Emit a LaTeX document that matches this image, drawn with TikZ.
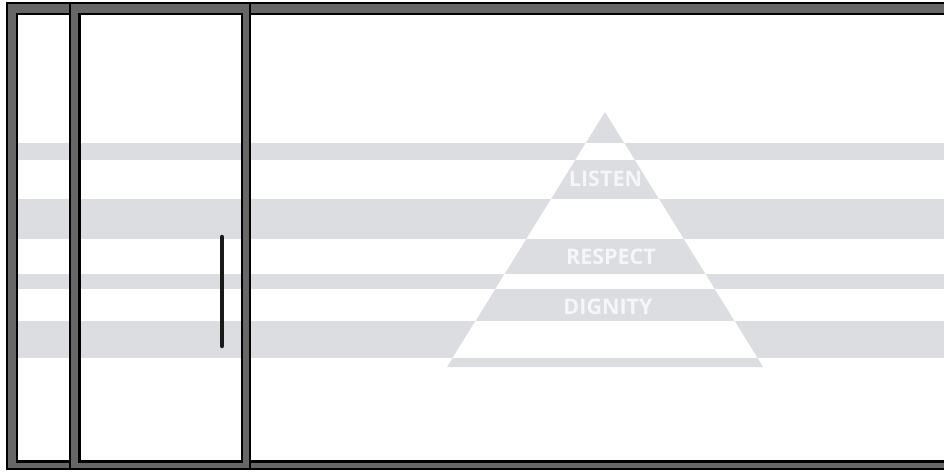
\documentclass[tikz,border=0pt]{standalone}
\usepackage{fontspec}
\newfontfamily\labelfont{Open Sans}
\definecolor{framegray}{HTML}{676767}
\definecolor{stripegray}{HTML}{DCDDE0}
\definecolor{labelwhite}{HTML}{F6F6F8}
\tikzset{
  outline/.style={draw=black, line width=2.4pt},
  ring/.style={fill=framegray, even odd rule},
  pyrlabel/.style={text=labelwhite, font=\labelfont\bfseries\fontsize{21.5}{25}\selectfont, inner sep=0pt},
}
\begin{document}
\begin{tikzpicture}[x=1pt,y=-1pt]
\useasboundingbox (0,0) rectangle (944,471);
\clip (0,0) rectangle (944,471);
\fill[white] (0,0) rectangle (944,471);
% stripes
\foreach \a/\b in {143/160, 199/239, 274/289, 321/358}
  \fill[stripegray] (17,\a) rectangle (944,\b);
% pyramid
\begin{scope}
  \clip (605,112) -- (763,367) -- (447,367) -- cycle;
  \fill[stripegray] (440,100) rectangle (770,370);
  \foreach \a/\b in {143/160, 199/239, 274/289, 321/358}
    \fill[white] (440,\a) rectangle (770,\b);
\end{scope}
\node[pyrlabel] (listen) at (605.5,179) {LISTEN};
\node[pyrlabel] (respect) at (611,256.5) {RESPECT};
\node[pyrlabel] (dignity) at (608,307) {DIGNITY};
% outer frame
\path[ring] (7,3) rectangle (960,469) (17,14) rectangle (960,461.5);
\draw[outline] (7,3) rectangle (960,469);
\draw[outline] (17,14) rectangle (960,461.5);
% door frame
\path[ring] (70,3) rectangle (250,469) (79.5,14) rectangle (242,461.5);
\draw[outline] (70,3) rectangle (250,469);
\draw[outline] (79.5,14) rectangle (242,461.5);
% handle
\coordinate (htop) at (222,237);
\coordinate (hbot) at (222,346);
\draw[line width=4.5pt, line cap=round, black!90] (htop) -- (hbot);
\end{tikzpicture}
\end{document}
